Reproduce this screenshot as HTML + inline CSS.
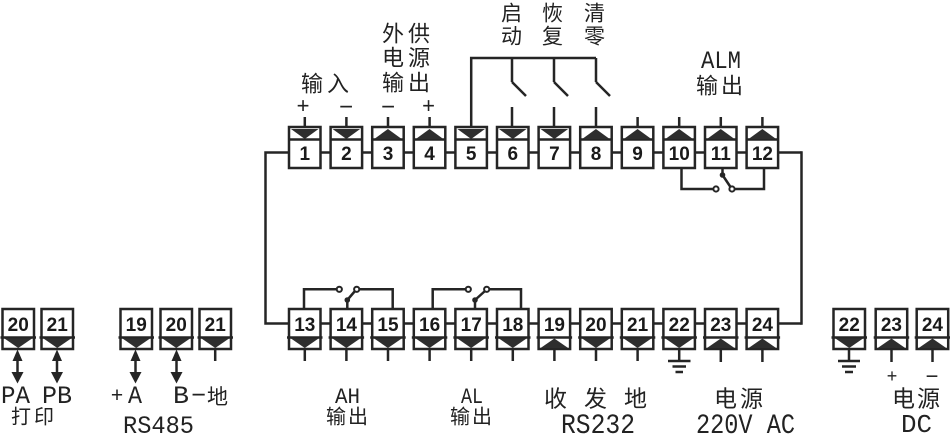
<!DOCTYPE html>
<html><head><meta charset="utf-8"><style>
html,body{margin:0;padding:0;background:#fff;}
svg{display:block;}
.l{stroke:#252525;stroke-width:2.5;fill:none;}
.bx{fill:#fff;stroke:#252525;stroke-width:2.5;}
.tri{fill:#2e2e2e;}
.n{font-family:"Liberation Sans",sans-serif;font-weight:bold;font-size:19px;fill:#1a1a1a;text-anchor:middle;}
.c{font-family:"Liberation Sans","Noto Sans CJK SC",sans-serif;fill:#222;}
.t{font-family:"Liberation Sans",sans-serif;fill:#222;}
.m{font-family:"Liberation Mono",monospace;fill:#222;}
</style></head><body>
<svg width="950" height="437" viewBox="0 0 950 437" xmlns="http://www.w3.org/2000/svg">
<defs>
<g id="tb"><rect class="bx" x="0" y="127" width="31.5" height="41"/><line class="l" x1="0" y1="139.5" x2="31.5" y2="139.5"/></g>
<polygon id="td" class="tri" points="2,129 29.5,129 15.75,139"/>
<polygon id="tu" class="tri" points="2,139 29.5,139 15.75,129"/>
<g id="bb"><rect class="bx" x="0" y="309" width="31.5" height="40"/><line class="l" x1="-2" y1="337.5" x2="33.5" y2="337.5"/></g>
<polygon id="bd" class="tri" points="2,338.5 29.5,338.5 15.75,348"/>
<polygon id="bu" class="tri" points="2,348 29.5,348 15.75,338.5"/>
</defs>

<!-- bus lines -->
<polyline class="l" points="289,152.5 265.5,152.5 265.5,323.5 289,323.5"/>
<line class="l" x1="289" y1="152.5" x2="801.5" y2="152.5"/>
<line class="l" x1="289" y1="323.5" x2="801.5" y2="323.5"/>
<line class="l" x1="801.5" y1="151.3" x2="801.5" y2="324.7"/>

<!-- top stems -->
<g class="l">
<line x1="304.8" y1="117" x2="304.8" y2="127"/>
<line x1="346.4" y1="117" x2="346.4" y2="127"/>
<line x1="388" y1="117" x2="388" y2="127"/>
<line x1="429.6" y1="117" x2="429.6" y2="127"/>
<line x1="637.6" y1="117" x2="637.6" y2="127"/>
<line x1="679.2" y1="117" x2="679.2" y2="127"/>
<line x1="720.8" y1="117" x2="720.8" y2="127"/>
<line x1="762.4" y1="117" x2="762.4" y2="127"/>
<polyline points="471.2,127 471.2,58 596,58"/>
<line x1="512" y1="58" x2="512" y2="82"/><line x1="512" y1="82" x2="526" y2="96"/><line x1="512" y1="107" x2="512" y2="127"/>
<line x1="554" y1="58" x2="554" y2="82"/><line x1="554" y1="82" x2="568" y2="96"/><line x1="554" y1="107" x2="554" y2="127"/>
<line x1="596" y1="58" x2="596" y2="82"/><line x1="596" y1="82" x2="610" y2="96"/><line x1="596" y1="107" x2="596" y2="127"/>
<!-- ALM switch -->
<polyline points="681.5,168 681.5,189 713.5,189"/>
<polyline points="734.5,189 764,189 764,168"/>
<line x1="722.5" y1="168" x2="722.5" y2="175"/>
<line x1="722.5" y1="175" x2="730.5" y2="187"/>
</g>
<circle cx="716" cy="189" r="2.6" fill="#fff" stroke="#252525" stroke-width="2"/>
<circle cx="732" cy="189" r="2.6" fill="#fff" stroke="#252525" stroke-width="2"/>
<circle cx="722.5" cy="175" r="2.8" fill="#252525"/>

<!-- top boxes -->
<use href="#tb" x="289"/><use href="#td" x="289"/>
<use href="#tb" x="330.6"/><use href="#td" x="330.6"/>
<use href="#tb" x="372.2"/><use href="#tu" x="372.2"/>
<use href="#tb" x="413.8"/><use href="#tu" x="413.8"/>
<use href="#tb" x="455.4"/><use href="#td" x="455.4"/>
<use href="#tb" x="497"/><use href="#td" x="497"/>
<use href="#tb" x="538.6"/><use href="#td" x="538.6"/>
<use href="#tb" x="580.2"/><use href="#tu" x="580.2"/>
<use href="#tb" x="621.8"/><use href="#tu" x="621.8"/>
<use href="#tb" x="663.4"/><use href="#tu" x="663.4"/>
<use href="#tb" x="705"/><use href="#tu" x="705"/>
<use href="#tb" x="746.6"/><use href="#tu" x="746.6"/>
<g class="n">
<text x="304.8" y="160">1</text><text x="346.4" y="160">2</text><text x="388" y="160">3</text><text x="429.6" y="160">4</text>
<text x="471.2" y="160">5</text><text x="512.8" y="160">6</text><text x="554.4" y="160">7</text><text x="596" y="160">8</text>
<text x="637.6" y="160">9</text><text x="679.2" y="160">10</text><text x="720.8" y="160">11</text><text x="762.4" y="160">12</text>
</g>

<!-- bottom switches -->
<g class="l">
<polyline points="304,309 304,289.3 336.8,289.3"/>
<polyline points="359.2,289.3 392.7,289.3 392.7,309"/>
<line x1="347.3" y1="309" x2="347.3" y2="300"/><line x1="347.3" y1="300" x2="355" y2="291"/>
<polyline points="432.7,309 432.7,289.3 465.8,289.3"/>
<polyline points="489.2,289.3 521,289.3 521,309"/>
<line x1="475" y1="309" x2="475" y2="300"/><line x1="475" y1="300" x2="485" y2="291"/>
</g>
<circle cx="339.3" cy="289.3" r="2.6" fill="#fff" stroke="#252525" stroke-width="2"/>
<circle cx="356.7" cy="289.3" r="2.6" fill="#fff" stroke="#252525" stroke-width="2"/>
<circle cx="347.3" cy="300" r="2.8" fill="#252525"/>
<circle cx="468.3" cy="289.3" r="2.6" fill="#fff" stroke="#252525" stroke-width="2"/>
<circle cx="486.7" cy="289.3" r="2.6" fill="#fff" stroke="#252525" stroke-width="2"/>
<circle cx="475" cy="300" r="2.8" fill="#252525"/>

<!-- bottom stems -->
<g class="l">
<line x1="304.8" y1="349" x2="304.8" y2="361"/>
<line x1="346.4" y1="349" x2="346.4" y2="361"/>
<line x1="388" y1="349" x2="388" y2="361"/>
<line x1="429.6" y1="349" x2="429.6" y2="361"/>
<line x1="471.2" y1="349" x2="471.2" y2="361"/>
<line x1="512.8" y1="349" x2="512.8" y2="361"/>
<line x1="554.4" y1="349" x2="554.4" y2="361"/>
<line x1="596" y1="349" x2="596" y2="361"/>
<line x1="637.6" y1="349" x2="637.6" y2="361"/>
<line x1="679.2" y1="349" x2="679.2" y2="361"/>
<line x1="668" y1="361" x2="690.5" y2="361"/>
<line x1="672.5" y1="366.5" x2="686" y2="366.5"/>
<line x1="675.5" y1="372" x2="683" y2="372"/>
<line x1="720.8" y1="349" x2="720.8" y2="362"/>
<line x1="762.4" y1="349" x2="762.4" y2="362"/>
</g>

<!-- bottom boxes -->
<use href="#bb" x="289"/><use href="#bd" x="289"/>
<use href="#bb" x="330.6"/><use href="#bd" x="330.6"/>
<use href="#bb" x="372.2"/><use href="#bd" x="372.2"/>
<use href="#bb" x="413.8"/><use href="#bd" x="413.8"/>
<use href="#bb" x="455.4"/><use href="#bd" x="455.4"/>
<use href="#bb" x="497"/><use href="#bd" x="497"/>
<use href="#bb" x="538.6"/><use href="#bu" x="538.6"/>
<use href="#bb" x="580.2"/><use href="#bd" x="580.2"/>
<use href="#bb" x="621.8"/><use href="#bd" x="621.8"/>
<use href="#bb" x="663.4"/><use href="#bd" x="663.4"/>
<use href="#bb" x="705"/><use href="#bu" x="705"/>
<use href="#bb" x="746.6"/><use href="#bu" x="746.6"/>
<g class="n">
<text x="304.8" y="331">13</text><text x="346.4" y="331">14</text><text x="388" y="331">15</text><text x="429.6" y="331">16</text>
<text x="471.2" y="331">17</text><text x="512.8" y="331">18</text><text x="554.4" y="331">19</text><text x="596" y="331">20</text>
<text x="637.6" y="331">21</text><text x="679.2" y="331">22</text><text x="720.8" y="331">23</text><text x="762.4" y="331">24</text>
</g>

<!-- left side terminals -->
<use href="#bb" x="2.5"/><use href="#bd" x="2.5"/>
<use href="#bb" x="41.5"/><use href="#bd" x="41.5"/>
<use href="#bb" x="120.5"/><use href="#bd" x="120.5"/>
<use href="#bb" x="160.5"/><use href="#bd" x="160.5"/>
<use href="#bb" x="199.5"/><use href="#bd" x="199.5"/>
<g class="n">
<text x="18.2" y="331">20</text><text x="57.2" y="331">21</text>
<text x="136.2" y="331">19</text><text x="176.2" y="331">20</text><text x="215.2" y="331">21</text>
</g>
<g class="l">
<line x1="17.5" y1="356" x2="17.5" y2="375"/>
<line x1="57" y1="356" x2="57" y2="375"/>
<line x1="135.5" y1="356" x2="135.5" y2="375"/>
<line x1="176.5" y1="356" x2="176.5" y2="375"/>
<line x1="215.2" y1="349" x2="215.2" y2="361"/>
</g>
<g fill="#252525">
<polygon points="17.5,349.5 12.5,361 22.5,361"/><polygon points="17.5,383.5 11.5,372 23.5,372"/>
<polygon points="57,349.5 52,361 62,361"/><polygon points="57,383.5 51,372 63,372"/>
<polygon points="135.5,349.5 130.5,361 140.5,361"/><polygon points="135.5,383.5 129.5,372 141.5,372"/>
<polygon points="176.5,349.5 171.5,361 181.5,361"/><polygon points="176.5,383.5 170.5,372 182.5,372"/>
</g>

<!-- right side terminals -->
<g class="l">
<line x1="849" y1="349" x2="849" y2="361"/>
<line x1="838" y1="361" x2="860" y2="361"/>
<line x1="842" y1="366.5" x2="856" y2="366.5"/>
<line x1="845" y1="372" x2="853" y2="372"/>
<line x1="891.5" y1="349" x2="891.5" y2="362"/>
<line x1="932.5" y1="349" x2="932.5" y2="362"/>
</g>
<use href="#bb" x="833.5"/><use href="#bd" x="833.5"/>
<use href="#bb" x="875.7"/><use href="#bu" x="875.7"/>
<use href="#bb" x="916.7"/><use href="#bu" x="916.7"/>
<g class="n">
<text x="849.2" y="331">22</text><text x="891.4" y="331">23</text><text x="932.4" y="331">24</text>
</g>

<!-- top labels -->
<g class="c" font-size="22">
<text x="301 327" y="91.5">输入</text>
<text x="382 408" y="41.5">外供</text>
<text x="382 408" y="65.5">电源</text>
<text x="382 408" y="90.5">输出</text>
<text x="696 721" y="93.5">输出</text>
</g>
<g class="c" font-size="21">
<text x="501" y="20.5">启</text><text x="501" y="43.5">动</text>
<text x="542" y="20.5">恢</text><text x="542" y="43.5">复</text>
<text x="584" y="20.5">清</text><text x="584" y="43.5">零</text>
</g>
<g class="t" text-anchor="middle">
<text x="303" y="113" font-size="22">+</text>
<text x="346" y="114.5" font-size="24">−</text>
<text x="388" y="114.5" font-size="24">−</text>
<text x="428.5" y="113" font-size="22">+</text>
</g>
<text class="m" x="701" y="68" font-size="25" textLength="40" lengthAdjust="spacingAndGlyphs">ALM</text>

<!-- bottom labels -->
<text class="m" x="335" y="403" font-size="22" textLength="25" lengthAdjust="spacingAndGlyphs">AH</text>
<text class="m" x="461" y="403" font-size="22" textLength="22" lengthAdjust="spacingAndGlyphs">AL</text>
<g class="c" font-size="20">
<text x="326 348" y="423.5">输出</text>
<text x="450 472" y="423.5">输出</text>
<text x="11 34" y="423.5">打印</text>
</g>
<g class="c" font-size="23">
<text x="544 584 624" y="406.5">收发地</text>
<text x="714 740" y="406.5">电源</text>
<text x="892 917" y="406.5">电源</text>
</g>
<text class="m" x="561" y="433" font-size="28" textLength="74" lengthAdjust="spacingAndGlyphs">RS232</text>
<text class="m" x="696" y="433" font-size="28" textLength="99" lengthAdjust="spacingAndGlyphs">220V AC</text>
<text class="m" x="1" y="403" font-size="25" textLength="29" lengthAdjust="spacingAndGlyphs">PA</text>
<text class="m" x="42" y="403" font-size="25" textLength="30" lengthAdjust="spacingAndGlyphs">PB</text>
<text class="t" x="117" y="402" font-size="21" text-anchor="middle">+</text>
<text class="m" x="128" y="403" font-size="25" textLength="14" lengthAdjust="spacingAndGlyphs">A</text>
<text class="m" x="173" y="403" font-size="25" textLength="16" lengthAdjust="spacingAndGlyphs">B</text>
<text class="t" x="198.5" y="403" font-size="25" text-anchor="middle">−</text>
<text class="c" x="207" y="404" font-size="21">地</text>
<text class="m" x="123" y="433" font-size="25" textLength="71" lengthAdjust="spacingAndGlyphs">RS485</text>
<text class="t" x="892" y="382" font-size="18" text-anchor="middle">+</text>
<text class="t" x="932" y="383.5" font-size="22" text-anchor="middle">−</text>
<text class="m" x="901" y="432" font-size="26" textLength="31" lengthAdjust="spacingAndGlyphs">DC</text>
</svg>
</body></html>
